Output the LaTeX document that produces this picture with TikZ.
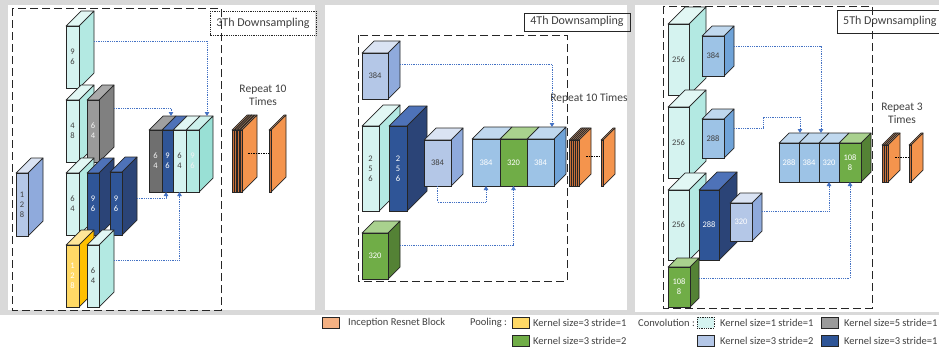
\documentclass[tikz,border=0pt]{standalone}
\usepackage{fontspec}
\setmainfont{Carlito}
\usetikzlibrary{arrows.meta,calc}
\definecolor{bgg}{HTML}{D9D9D9}
\definecolor{edgec}{HTML}{262626}
\definecolor{txt}{HTML}{404040}
\definecolor{ablue}{HTML}{4472C4}
\definecolor{cyF}{HTML}{D5F3F0}\definecolor{cyS}{HTML}{B3E9E2}\definecolor{cyT}{HTML}{E2F7F4}
\definecolor{tqF}{HTML}{B3E9E2}\definecolor{tqS}{HTML}{99E0D5}\definecolor{tqT}{HTML}{CDF1EC}
\definecolor{grF}{HTML}{9A9A9A}\definecolor{grS}{HTML}{808080}\definecolor{grT}{HTML}{A9A9A9}
\definecolor{gdF}{HTML}{6F6F6F}\definecolor{gdS}{HTML}{5A5A5A}\definecolor{gdT}{HTML}{A0A0A0}
\definecolor{dbF}{HTML}{2F5597}\definecolor{dbS}{HTML}{2B4477}\definecolor{dbT}{HTML}{4E72B8}
\definecolor{puF}{HTML}{B4C7E7}\definecolor{puS}{HTML}{8FAADC}\definecolor{puT}{HTML}{DAE3F3}
\definecolor{sbF}{HTML}{9DC3E6}\definecolor{sbS}{HTML}{6FA3D8}\definecolor{sbT}{HTML}{C0D8EE}
\definecolor{gnF}{HTML}{70AD47}\definecolor{gnS}{HTML}{548235}\definecolor{gnT}{HTML}{A9D18E}
\definecolor{yeF}{HTML}{FFD966}\definecolor{yeS}{HTML}{FFC000}\definecolor{yeT}{HTML}{FFE699}
\definecolor{orF}{HTML}{C8703A}\definecolor{orS}{HTML}{F4944D}\definecolor{orT}{HTML}{F7B27F}
\definecolor{orL}{HTML}{F4B183}
\definecolor{lt}{HTML}{F2F2F2}
\tikzset{
  cedge/.style={draw=edgec,line width=0.7pt,line join=round},
  face/.style={draw=edgec,line width=0.7pt,inner sep=0pt,outer sep=0pt,anchor=north west,
    align=center,font=\fontsize{8.5}{9.8}\selectfont},
  arr/.style={draw=ablue,densely dotted,line width=0.8pt,-{Triangle[length=4pt,width=4.5pt]}},
  dotline/.style={draw=black,dash pattern=on 1.5pt off 1pt,line width=0.8pt},
  dashbox/.style={draw=edgec,dash pattern=on 8pt off 4pt,line width=1pt},
  ttl/.style={font=\fontsize{12}{14}\selectfont,text=txt,inner sep=0pt},
  reptext/.style={font=\fontsize{11.5}{13}\selectfont,text=txt,align=center,inner sep=0pt},
  lgtext/.style={font=\fontsize{10.5}{12}\selectfont,text=txt,anchor=west,inner sep=0pt},
  lgbox/.style={draw=edgec,line width=0.8pt,minimum width=17pt,minimum height=11pt,inner sep=0pt}
}
% #1 name #2 x #3 y #4 w #5 h #6 depth #7 colour prefix #8 label #9 label colour
\newcommand\cub[9]{%
  \filldraw[cedge,fill=#7T] (#2,#3) -- ++(#6,-#6) -- ++(#4,0) -- ++(-#6,#6) -- cycle;
  \filldraw[cedge,fill=#7S] (#2+#4,#3) -- ++(#6,-#6) -- ++(0,#5) -- ++(-#6,#6) -- cycle;
  \node[face,fill=#7F,minimum width=#4pt,minimum height=#5pt,text=#9] (#1) at (#2,#3) {#8};
}
\newcommand\slb[9]{%
  \filldraw[cedge,fill=#7T] (#2,#3) -- ++(#6,-#6) -- ++(#4,0) -- ++(-#6,#6) -- cycle;
  \node[face,fill=#7F,minimum width=#4pt,minimum height=#5pt,text=#9] (#1) at (#2,#3) {#8};
}
\begin{document}
\begin{tikzpicture}[x=1pt,y=-1pt]
\useasboundingbox (0,0) rectangle (939,349);
\clip (0,0) rectangle (939,349);
\fill[white] (0,0) rectangle (939,349);
\fill[bgg] (0,0) rectangle (939,315);
\fill[white] (8,5) rectangle (315,310);
\fill[white] (325,5) rectangle (627,310);
\fill[white] (635,5) rectangle (945,312);

% ---------------- panel 1 ----------------
\draw[dashbox] (12,8) rectangle (221,310);
\cub{b128}{16}{173}{12}{63}{15}{pu}{1\\2\\8}{txt}
\cub{c96}{66}{26}{13}{62}{15}{cy}{9\\6}{txt}
\cub{c48}{66}{100}{13}{62}{15}{cy}{4\\8}{txt}
\cub{g64}{87}{100}{12}{62}{15}{gr}{6\\4}{lt}
\cub{c64}{66}{173}{13}{62}{15}{cy}{6\\4}{txt}
\cub{d96a}{87}{173}{12}{62}{15}{db}{9\\6}{white}
\cub{d96b}{110}{172}{12}{63}{15}{db}{9\\6}{white}
\cub{y128}{66}{245}{13}{62}{15}{ye}{1\\2\\8}{white}
\cub{c64b}{87}{245}{12}{62}{15}{cy}{6\\4}{txt}
\slb{k1}{149}{130}{13}{62}{14}{gd}{6\\4}{lt}
\slb{k2}{162}{130}{11}{62}{14}{db}{9\\6}{white}
\slb{k3}{173}{130}{13}{62}{14}{cy}{6\\4}{txt}
\cub{k4}{186}{130}{13}{62}{14}{tq}{9\\6}{lt}
\draw[arr] ([shift={(15,15)}]c96.north east) -| ([shift={(14.5,-14)}]k4.north);
\draw[arr] ([shift={(15,8)}]g64.north east) -| ([shift={(3.5,-14)}]k2.north);
\draw[arr] ([shift={(15,26)}]d96b.north east) -| ([xshift=-1.5]k2.south);
\draw[arr] ([shift={(15,15)}]c64b.north east) -| (k3.south);
\cub{o1a}{232}{130}{2}{62}{15}{or}{}{black}
\cub{o1b}{234.7}{130}{2}{62}{15}{or}{}{black}
\cub{o1c}{237.3}{130}{2}{62}{15}{or}{}{black}
\cub{o1d}{240}{130}{2}{62}{15}{or}{}{black}
\cub{o1s}{269}{130}{2}{62}{15}{or}{}{black}
\draw[dotline] ([shift={(6,-8)}]o1d.east) -- ([shift={(0,-8)}]o1s.west);
\node[reptext] (rep1) at (263,95) {Repeat 10\\Times};
\draw[edgec,line width=0.8pt,densely dotted] (210,11) rectangle (316,35);
\node[ttl] (t1) at (263,23) {3Th Downsampling};

% ---------------- panel 2 ----------------
\draw[dashbox] (358,35) rectangle (567,281);
\cub{a384}{362}{53}{26}{46}{12}{pu}{384}{txt}
\cub{a256c}{362}{126}{17}{85}{21}{cy}{2\\5\\6}{txt}
\cub{a256d}{389}{126}{18}{85}{20}{db}{2\\5\\6}{white}
\cub{m384}{424}{140}{27}{46}{12}{pu}{384}{txt}
\cub{g320}{362}{233}{26}{46}{12}{gn}{320}{white}
\slb{q1}{472}{139}{28}{47}{12}{sb}{384}{white}
\slb{q2}{500}{139}{27}{47}{12}{gn}{320}{white}
\cub{q3}{527}{139}{27}{47}{12}{sb}{384}{white}
\draw[arr] ([shift={(12,11)}]a384.north east) -| ([shift={(11.5,-12)}]q3.north);
\draw[arr] (m384.south) -- ++(0,16) -| (q1.south);
\draw[arr] ([shift={(12,12)}]g320.north east) -| (q2.south);
\cub{o2a}{569}{140}{2}{46}{12}{or}{}{black}
\cub{o2b}{571}{140}{2}{46}{12}{or}{}{black}
\cub{o2c}{573}{140}{2}{46}{12}{or}{}{black}
\cub{o2d}{575}{140}{2}{46}{12}{or}{}{black}
\cub{o2e}{577}{140}{2}{46}{12}{or}{}{black}
\cub{o2s}{601}{140}{2}{46}{12}{or}{}{black}
\draw[dotline] ([shift={(7,-7)}]o2e.east) -- ([shift={(0,-7)}]o2s.west);
\node[reptext] (rep2) at (589,98) {Repeat 10 Times};
\draw[edgec,line width=0.8pt] (524,13) rectangle (630,31);
\node[ttl] (t2) at (577,21.5) {4Th Downsampling};

% ---------------- panel 3 ----------------
\draw[dashbox] (663,6) rectangle (872,308);
\cub{e256a}{668}{24}{21}{71}{17}{cy}{256}{txt}
\cub{e384}{702}{36}{22}{40}{10}{sb}{384}{txt}
\cub{e256b}{668}{107}{21}{71}{17}{cy}{256}{txt}
\cub{e288}{702}{119}{22}{39}{10}{sb}{288}{txt}
\cub{e256c}{668}{190}{21}{70}{17}{cy}{256}{txt}
\cub{e288d}{699}{190}{20}{70}{18}{db}{288}{white}
\cub{e320}{730}{203}{22}{38}{10}{pu}{320}{white}
\cub{e1088}{668}{267}{22}{40}{9}{gn}{108\\8}{white}
\slb{r1}{779}{143}{20}{39}{10}{sb}{288}{white}
\slb{r2}{799}{143}{20}{39}{10}{sb}{384}{white}
\slb{r3}{819}{143}{20}{39}{10}{sb}{320}{white}
\cub{r4}{839}{143}{22}{39}{10}{gn}{108\\8}{white}
\draw[arr] ([shift={(10,10)}]e384.north east) -| ([shift={(-8,-10)}]r3.north);
\draw[arr] ([shift={(10,9)}]e288.north east) -- ++(29,0) -- ++(0,-11) -| ([shift={(-9,-10)}]r2.north);
\draw[arr] ([shift={(10,8)}]e320.north east) -| (r3.south);
\draw[arr] ([shift={(9,11)}]e1088.north east) -| (r4.south);
\cub{o3a}{882}{145}{2}{37}{12}{or}{}{black}
\cub{o3b}{884}{145}{2}{37}{12}{or}{}{black}
\cub{o3c}{886}{145}{2}{37}{12}{or}{}{black}
\cub{o3s}{909}{145}{2}{37}{12}{or}{}{black}
\draw[dotline] ([shift={(7,-6.5)}]o3c.east) -- ([shift={(0,-6.5)}]o3s.west);
\node[reptext] (rep3) at (902,113) {Repeat 3\\Times};
\draw[edgec,line width=0.8pt] (837,10) rectangle (960,33);
\node[ttl,anchor=west] (t3) at (843,21.5) {5Th Downsampling};

% ---------------- legend ----------------
\node[lgbox,fill=orL] (lb0) at (330.5,322.5) {};
\node[lgtext] (lt0) at (348,323) {Inception Resnet Block};
\node[lgtext] (lp) at (470,323) {Pooling :};
\node[lgbox,fill=yeF] (lb1) at (520.5,322.5) {};
\node[lgtext] (lt1) at (533,323) {Kernel size=3 stride=1};
\node[lgbox,fill=gnF] (lb2) at (520.5,340.5) {};
\node[lgtext] (lt2) at (533,341) {Kernel size=3 stride=2};
\node[lgtext] (lc) at (638,323) {Convolution :};
\node[lgbox,fill=cyF,densely dotted] (lb3) at (705.5,322.5) {};
\node[lgtext] (lt3) at (720,323) {Kernel size=1 stride=1};
\node[lgbox,fill=puF] (lb4) at (705.5,340.5) {};
\node[lgtext] (lt4) at (720,341) {Kernel size=3 stride=2};
\node[lgbox,fill=grF] (lb5) at (829.5,322.5) {};
\node[lgtext] (lt5) at (844,323) {Kernel size=5 stride=1};
\node[lgbox,fill=dbF] (lb6) at (829.5,340.5) {};
\node[lgtext] (lt6) at (844,341) {Kernel size=3 stride=1};
\end{tikzpicture}
\end{document}
